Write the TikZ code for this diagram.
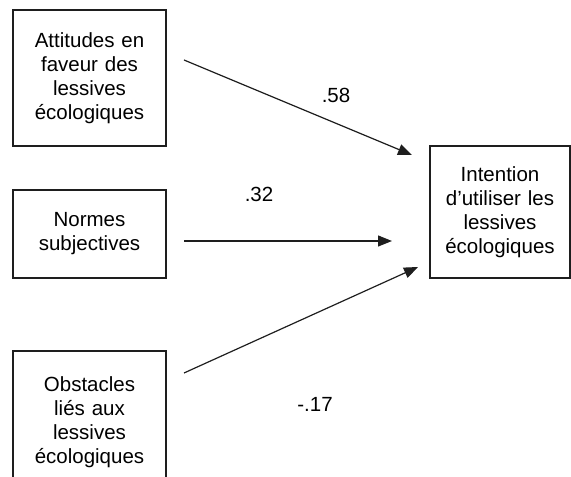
\documentclass[tikz,border=0pt]{standalone}
\usepackage{fontspec}
\setmainfont{Liberation Sans}
\usepackage{tikz}
\usetikzlibrary{arrows.meta,positioning}
\definecolor{BoxLine}{RGB}{30,30,30}

\begin{document}
\begin{tikzpicture}[x=1pt,y=1pt,>={Triangle[length=14pt,width=11pt]}]
      \tikzset{factor/.style={draw=BoxLine,line width=1.2pt,align=center,
          font=\fontsize{20.5}{24}\selectfont,inner sep=0pt,text width=150pt},
        coef/.style={font=\fontsize{20.5}{24}\selectfont,inner sep=0pt},
        path/.style={->,line width=1.2pt,BoxLine}}
      \useasboundingbox (0,0) rectangle (571,477);
      \node[factor,minimum width=153pt,minimum height=136pt] (attitudes) at (89.5,399)
        {Attitudes en\\faveur des\\lessives\\écologiques};
      \node[factor,minimum width=153pt,minimum height=88pt] (normes) at (89.5,243)
        {Normes\\subjectives};
      \node[factor,minimum width=153pt,minimum height=142pt] (obstacles) at (89.5,55)
        {Obstacles\\liés aux\\lessives\\écologiques};
      \node[factor,minimum width=140pt,minimum height=132pt,text width=136pt] (intention) at (500,265)
        {Intention\\d'utiliser les\\lessives\\écologiques};
      % free ends of the paths
      \coordinate (attOut) at (184,417);
      \coordinate (attIn) at (412,322);
      \coordinate (normOut) at (184,236);
      \coordinate (normIn) at (392,236);
      \coordinate (obsOut) at (184,104);
      \coordinate (obsIn) at (418,210);
      \draw[path] (attOut)--(attIn);
      \draw[path] (normOut)--(normIn);
      \draw[path] (obsOut)--(obsIn);
      \node[coef] (cAtt) at (336,382) {.58};
      \node[coef] (cNorm) at (259,283) {.32};
      \node[coef] (cObs) at (315,73) {-.17};
    \end{tikzpicture}
\end{document}
